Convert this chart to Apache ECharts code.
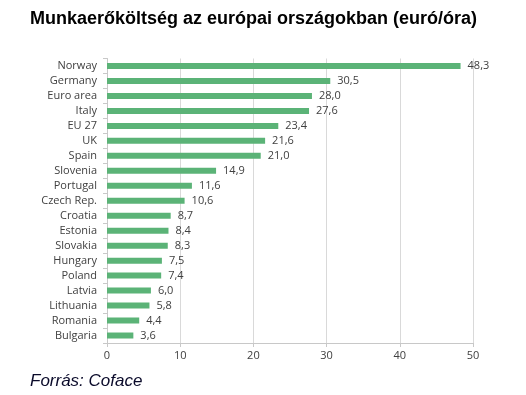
<!DOCTYPE html>
<html><head><meta charset="utf-8">
<script src="https://cdn.jsdelivr.net/npm/echarts@6/dist/echarts.min.js"></script>
<style>html,body{margin:0;padding:0;background:#fff}#c{width:526px;height:395px}</style>
</head><body><div id="c"></div>
<script>
var categories = ["Norway","Germany","Euro area","Italy","EU 27","UK","Spain","Slovenia","Portugal","Czech Rep.","Croatia","Estonia","Slovakia","Hungary","Poland","Latvia","Lithuania","Romania","Bulgaria"];
var values = [48.3,30.5,28.0,27.6,23.4,21.6,21.0,14.9,11.6,10.6,8.7,8.4,8.3,7.5,7.4,6.0,5.8,4.4,3.6];
var xTicks = [0,10,20,30,40,50];
var chart = echarts.init(document.getElementById('c'));
chart.setOption({
  animation:false,
  title:[{text:'Munkaerőköltség az európai országokban (euró/óra)',left:25,top:5,textStyle:{fontFamily:'Liberation Sans, Arial',fontWeight:'bold',fontSize:18,color:'#000'}},
         {text:'Forrás: Coface',left:25,top:368,textStyle:{fontFamily:'Liberation Sans, Arial',fontStyle:'italic',fontWeight:'normal',fontSize:17,color:'#0a0a2a'}}],
  grid:{left:107,right:53,top:58.5,bottom:52,containLabel:false},
  xAxis:{type:'value',min:xTicks[0],max:xTicks[xTicks.length-1],interval:10,
    axisLine:{show:true,lineStyle:{color:'#c8c8c8'}},
    axisTick:{show:true,length:4,lineStyle:{color:'#c8c8c8'}},
    splitLine:{show:true,lineStyle:{color:'#d9d9d9'}},
    axisLabel:{color:'#404040',fontSize:11,fontFamily:'Open Sans',margin:7}},
  yAxis:{type:'category',data:categories,inverse:true,
    axisLine:{show:true,lineStyle:{color:'#c8c8c8'}},
    axisTick:{show:true,length:4,lineStyle:{color:'#c8c8c8'}},
    axisLabel:{color:'#404040',fontSize:11,fontFamily:'Open Sans',margin:10}},
  series:[{type:'bar',data:values,barWidth:6,itemStyle:{color:'#5bb377'},
    label:{show:true,position:'right',distance:7,color:'#404040',fontSize:11,fontFamily:'Open Sans',
      formatter:function(p){return p.value.toFixed(1).replace('.',',');}}}]
});
</script></body></html>
